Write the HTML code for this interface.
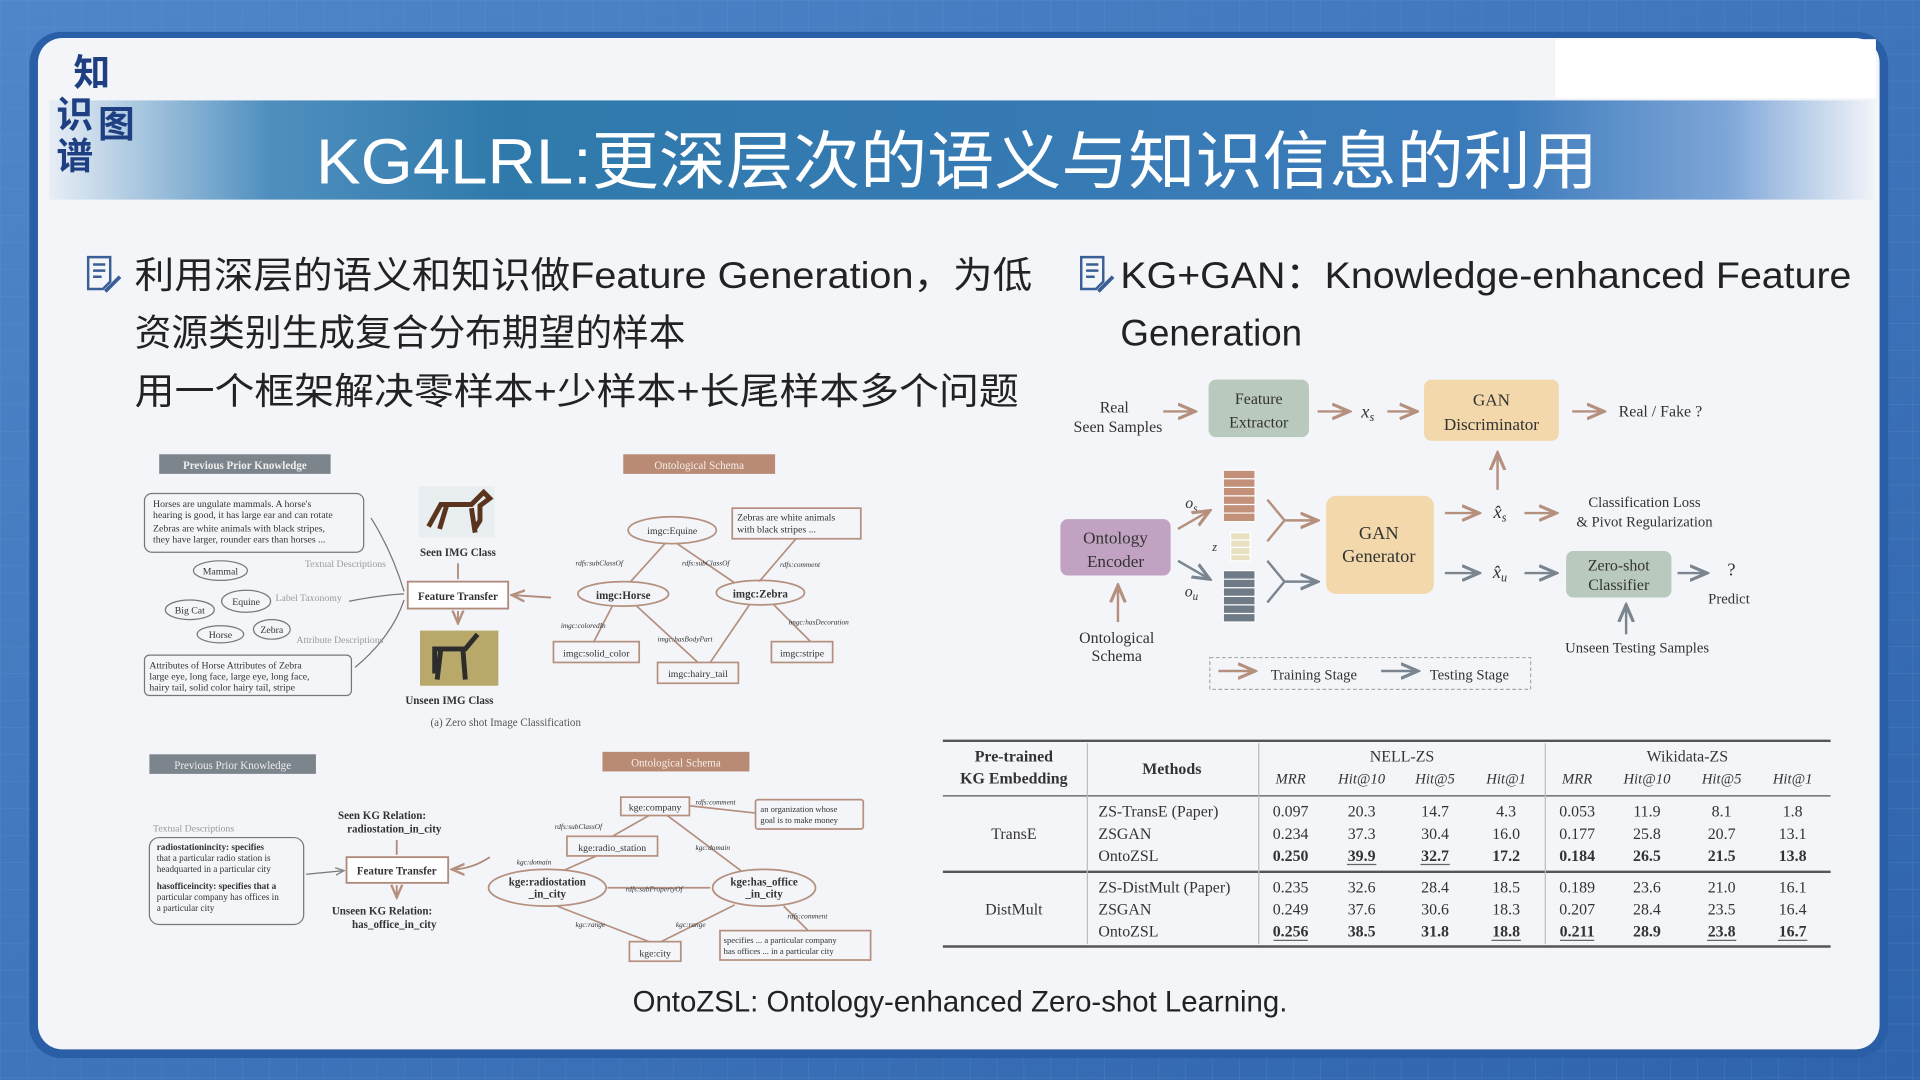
<!DOCTYPE html>
<html><head><meta charset="utf-8"><style>
html,body{margin:0;padding:0;width:1920px;height:1080px;overflow:hidden;background:#3f74bb}
svg{display:block}
.s{font-family:"Liberation Serif","Noto Serif CJK SC",serif}
.a{font-family:"Liberation Sans","Noto Sans CJK SC",sans-serif}
</style></head><body>
<svg width="1920" height="1080" viewBox="0 0 1568 882" xmlns="http://www.w3.org/2000/svg">
<defs>
<linearGradient id="bg" x1="0" y1="0" x2="1" y2="1"><stop offset="0" stop-color="#4f86c9"/><stop offset="1" stop-color="#2f64ad"/></linearGradient>
<linearGradient id="tb" x1="0" y1="0" x2="1" y2="0">
<stop offset="0" stop-color="#e8eef6"/><stop offset="0.12" stop-color="#4f8fbf"/><stop offset="0.25" stop-color="#2f7aab"/><stop offset="0.8" stop-color="#3c7bbb"/><stop offset="0.92" stop-color="#7ea6d8"/><stop offset="1" stop-color="#f0f3f8"/></linearGradient>
<pattern id="grid" width="22" height="22" patternUnits="userSpaceOnUse"><path d="M22 0H0V22" fill="none" stroke="#6b98d2" stroke-width="0.6" opacity="0.5"/></pattern>
<marker id="ab" markerWidth="8" markerHeight="8" refX="7" refY="4" orient="auto"><path d="M0,1 L7,4 L0,7" fill="none" stroke="#b5907e" stroke-width="1.3"/></marker>
<marker id="ag" markerWidth="8" markerHeight="8" refX="7" refY="4" orient="auto"><path d="M0,1 L7,4 L0,7" fill="none" stroke="#7a8590" stroke-width="1.3"/></marker>
<marker id="ak" markerWidth="8" markerHeight="8" refX="7" refY="4" orient="auto"><path d="M0,1 L7,4 L0,7" fill="none" stroke="#888" stroke-width="1.2"/></marker>
</defs>
<rect width="1568" height="882" fill="url(#bg)"/>
<rect width="1568" height="882" fill="url(#grid)"/>
<!-- panel -->
<rect x="24" y="26" width="1518" height="838" rx="26" fill="#2a5ea6"/>
<rect x="31" y="31" width="1504" height="826" rx="20" fill="#f3f5f9"/>
<rect x="1270" y="32" width="262" height="48" fill="#ffffff"/>
<rect x="40" y="82" width="1490" height="81" fill="url(#tb)"/>
<!-- logo -->
<g class="a" fill="#1e3f82" font-weight="bold">
<text x="60" y="70" font-size="30">知</text>
<text x="46" y="104" font-size="30">识</text>
<text x="80" y="112" font-size="30">图</text>
<text x="46" y="138" font-size="30">谱</text>
</g>
<text x="258" y="150" class="a" font-size="52" fill="#ffffff" textLength="1047" lengthAdjust="spacingAndGlyphs">KG4LRL:更深层次的语义与知识信息的利用</text>
<!-- bullets -->
<g fill="none" stroke="#3a5f96" stroke-width="2">
<path d="M72 210h18v20l-6 6h-12z"/><path d="M76 216h10M76 221h10M76 226h7"/><path d="M86 238l12-12" stroke-width="3"/>
<path d="M883 210h18v20l-6 6h-12z"/><path d="M887 216h10M887 221h10M887 226h7"/><path d="M897 238l12-12" stroke-width="3"/>
</g>
<g class="a" font-size="30" fill="#222">
<text x="110" y="235" textLength="733" lengthAdjust="spacingAndGlyphs">利用深层的语义和知识做Feature Generation，为低</text>
<text x="110" y="282">资源类别生成复合分布期望的样本</text>
<text x="110" y="330" textLength="722" lengthAdjust="spacingAndGlyphs">用一个框架解决零样本+少样本+长尾样本多个问题</text>
<text x="915" y="235" textLength="597" lengthAdjust="spacingAndGlyphs">KG+GAN：Knowledge-enhanced Feature</text>
<text x="915" y="282">Generation</text>
</g>

<!-- top-left diagram -->
<g class="s" font-size="9" fill="#333">
<rect x="130" y="371" width="140" height="16" fill="#7d858c"/><text x="200" y="383" fill="#eee" text-anchor="middle" font-weight="bold">Previous Prior Knowledge</text>
<rect x="509" y="371" width="124" height="16" fill="#b98a74"/><text x="571" y="383" fill="#f5eee9" text-anchor="middle">Ontological Schema</text>
<g fill="none" stroke="#777"><rect x="118" y="403" width="179" height="48" rx="6"/><rect x="118" y="535" width="169" height="33" rx="4"/>
<ellipse cx="180" cy="466" rx="22" ry="8"/><ellipse cx="155" cy="498" rx="20" ry="8"/><ellipse cx="201" cy="491" rx="20" ry="9"/><ellipse cx="180" cy="518" rx="19" ry="7"/><ellipse cx="222" cy="514" rx="15" ry="8"/>
<path d="M303 423 Q320 450 330 483M285 491 Q310 486 330 485M290 545 Q320 520 330 490"/></g>
<text x="125" y="414" font-size="8">Horses are ungulate mammals. A horse's</text><text x="125" y="423" font-size="8">hearing is good, it has large ear and can rotate</text>
<text x="125" y="434" font-size="8">Zebras are white animals with black stripes,</text><text x="125" y="443" font-size="8">they have larger, rounder ears than horses ...</text>
<text x="180" y="469" text-anchor="middle" font-size="8">Mammal</text><text x="155" y="501" text-anchor="middle" font-size="8">Big Cat</text><text x="201" y="494" text-anchor="middle" font-size="8">Equine</text><text x="180" y="521" text-anchor="middle" font-size="8">Horse</text><text x="222" y="517" text-anchor="middle" font-size="8">Zebra</text>
<text x="122" y="546" font-size="8">Attributes of Horse  Attributes of Zebra</text><text x="122" y="555" font-size="8">large eye, long face,  large eye, long face,</text><text x="122" y="564" font-size="8">hairy tail, solid color  hairy tail, stripe</text>
<text x="249" y="463" fill="#999" font-size="8">Textual Descriptions</text><text x="225" y="491" fill="#999" font-size="8">Label Taxonomy</text><text x="242" y="525" fill="#999" font-size="8">Attribute Descriptions</text>
<rect x="342" y="397" width="62" height="42" fill="#e9eef0"/><path d="M350 430 l10-18 h25 l10-10 l5 5 l-8 6 v12 l-5 8 M365 412 l-6 20 M385 415 l3 20" stroke="#5b3420" stroke-width="4" fill="none"/>
<text x="374" y="454" text-anchor="middle" font-weight="bold">Seen IMG Class</text>
<rect x="333" y="475" width="82" height="22" fill="#fff" stroke="#b08b7b" stroke-width="1.5"/><text x="374" y="490" text-anchor="middle" font-weight="bold">Feature Transfer</text>
<path d="M374 460v13M374 499v10" stroke="#b08b7b" stroke-width="1.5" marker-end="url(#ab)"/>
<path d="M450 488 L418 486" stroke="#b08b7b" stroke-width="1.5" marker-end="url(#ab)"/>
<rect x="343" y="515" width="64" height="45" fill="#b8a86a"/><path d="M355 550 v-20 h25 l10-12 M360 530 l-3 25 M378 530 l2 25" stroke="#2c2c2c" stroke-width="4" fill="none"/>
<text x="367" y="575" text-anchor="middle" font-weight="bold">Unseen IMG Class</text>
<text x="413" y="593" text-anchor="middle" fill="#555">(a) Zero shot Image Classification</text>
<g fill="none" stroke="#b5907e" stroke-width="1.4"><ellipse cx="549" cy="433" rx="36" ry="11"/><rect x="598" y="415" width="105" height="25"/>
<ellipse cx="509" cy="485" rx="37" ry="10"/><ellipse cx="621" cy="484" rx="36" ry="10"/>
<rect x="452" y="524" width="70" height="17"/><rect x="537" y="541" width="66" height="17"/><rect x="630" y="524" width="50" height="17"/>
<path d="M543 444 L515 475M553 444 L600 476M650 440 L620 475M500 495 L485 524M520 495 L570 541M612 494 L580 541M632 494 L662 524"/></g>
<text x="549" y="436" text-anchor="middle" font-size="8">imgc:Equine</text><text x="602" y="425" font-size="8">Zebras are white animals</text><text x="602" y="435" font-size="8">with black stripes ...</text>
<text x="509" y="489" text-anchor="middle" font-weight="bold">imgc:Horse</text><text x="621" y="488" text-anchor="middle" font-weight="bold">imgc:Zebra</text>
<text x="487" y="536" text-anchor="middle" font-size="8">imgc:solid_color</text><text x="570" y="553" text-anchor="middle" font-size="8">imgc:hairy_tail</text><text x="655" y="536" text-anchor="middle" font-size="8">imgc:stripe</text>
<g font-size="6" font-style="italic"><text x="470" y="462">rdfs:subClassOf</text><text x="557" y="462">rdfs:subClassOf</text><text x="637" y="463">rdfs:comment</text><text x="458" y="513">imgc:coloredIn</text><text x="537" y="524">imgc:hasBodyPart</text><text x="644" y="510">imgc:hasDecoration</text></g>
</g>

<!-- bottom-left diagram -->
<g class="s" font-size="9" fill="#333">
<rect x="122" y="616" width="136" height="16" fill="#7d858c"/><text x="190" y="628" fill="#eee" text-anchor="middle">Previous Prior Knowledge</text>
<rect x="492" y="614" width="120" height="16" fill="#b98a74"/><text x="552" y="626" fill="#f5eee9" text-anchor="middle">Ontological Schema</text>
<text x="125" y="679" fill="#999" font-size="8">Textual Descriptions</text>
<rect x="122" y="684" width="126" height="71" rx="8" fill="none" stroke="#777"/>
<g font-size="7.5"><text x="128" y="694" font-weight="bold">radiostationincity: specifies</text><text x="128" y="703">that a particular radio station is</text><text x="128" y="712">headquarted in a particular city</text>
<text x="128" y="726" font-weight="bold">hasofficeincity: specifies that a</text><text x="128" y="735">particular company has offices in</text><text x="128" y="744">a particular city</text></g>
<path d="M250 714 L281 711" stroke="#777" fill="none" marker-end="url(#ak)"/>
<text x="312" y="669" text-anchor="middle" font-weight="bold">Seen KG Relation:</text><text x="322" y="680" text-anchor="middle" font-weight="bold">radiostation_in_city</text>
<rect x="283" y="700" width="83" height="21" fill="#fff" stroke="#b08b7b" stroke-width="1.5"/><text x="324" y="714" text-anchor="middle" font-weight="bold">Feature Transfer</text>
<path d="M324 686v12M324 723v10" stroke="#b08b7b" stroke-width="1.5" marker-end="url(#ab)"/>
<path d="M400 700 Q385 710 369 710" stroke="#b08b7b" stroke-width="1.5" fill="none" marker-end="url(#ab)"/>
<text x="312" y="747" text-anchor="middle" font-weight="bold">Unseen KG Relation:</text><text x="322" y="758" text-anchor="middle" font-weight="bold">has_office_in_city</text>
<g fill="none" stroke="#b5907e" stroke-width="1.4"><rect x="507" y="651" width="56" height="15"/><rect x="617" y="653" width="88" height="24" rx="2"/><rect x="463" y="683" width="74" height="16"/>
<ellipse cx="447" cy="725" rx="48" ry="15"/><ellipse cx="624" cy="725" rx="42" ry="15"/><rect x="514" y="769" width="42" height="16"/><rect x="588" y="760" width="123" height="24"/>
<path d="M563 658 L617 664M530 666 L500 683M545 666 L605 711M487 699 L460 711M496 725 L580 725M455 740 L530 769M600 739 L540 769M640 740 L660 760"/></g>
<text x="535" y="662" text-anchor="middle" font-size="8">kge:company</text><text x="621" y="663" font-size="7">an organization whose</text><text x="621" y="672" font-size="7">goal is to make money</text>
<text x="500" y="695" text-anchor="middle" font-size="8">kge:radio_station</text>
<text x="447" y="723" text-anchor="middle" font-weight="bold">kge:radiostation</text><text x="447" y="733" text-anchor="middle" font-weight="bold">_in_city</text>
<text x="624" y="723" text-anchor="middle" font-weight="bold">kge:has_office</text><text x="624" y="733" text-anchor="middle" font-weight="bold">_in_city</text>
<text x="535" y="781" text-anchor="middle" font-size="8">kge:city</text><text x="591" y="770" font-size="7">specifies ... a particular company</text><text x="591" y="779" font-size="7">has offices ... in a particular city</text>
<g font-size="6" font-style="italic"><text x="453" y="677">rdfs:subClassOf</text><text x="568" y="657">rdfs:comment</text><text x="568" y="694">kgc:domain</text><text x="422" y="706">kgc:domain</text><text x="511" y="728">rdfs:subPropertyOf</text><text x="470" y="757">kgc:range</text><text x="552" y="757">kgc:range</text><text x="643" y="750">rdfs:comment</text></g>
</g>

<!-- GAN diagram -->
<g class="s" font-size="13" fill="#333" text-anchor="middle">
<text x="910" y="337">Real</text><text x="913" y="353">Seen Samples</text>
<rect x="987" y="310" width="82" height="47" rx="6" fill="#b9c9bd"/><text x="1028" y="330">Feature</text><text x="1028" y="349">Extractor</text>
<text x="1117" y="341" font-style="italic" font-size="15">x<tspan font-size="10" dy="3">s</tspan></text>
<rect x="1163" y="310" width="110" height="50" rx="6" fill="#f2d8aa"/><text x="1218" y="331" font-size="14">GAN</text><text x="1218" y="351" font-size="14">Discriminator</text>
<text x="1356" y="340">Real / Fake ?</text>
<rect x="866" y="424" width="90" height="46" rx="6" fill="#c1a2c2"/><text x="911" y="444" font-size="14">Ontology</text><text x="911" y="463" font-size="14">Encoder</text>
<text x="912" y="525">Ontological</text><text x="912" y="540">Schema</text>
<g stroke="#fff" stroke-width="1"><rect x="999" y="384" width="26" height="42" fill="#c39079"/><path d="M999 391h26M999 398h26M999 405h26M999 412h26M999 419h26"/>
<rect x="1005" y="435" width="16" height="23" fill="#e8e0c0"/><path d="M1005 441h16M1005 447h16M1005 453h16"/>
<rect x="999" y="466" width="26" height="42" fill="#6f7c88"/><path d="M999 473h26M999 480h26M999 487h26M999 494h26M999 501h26"/></g>
<text x="973" y="415" font-style="italic">o<tspan font-size="9" dy="3">s</tspan></text><text x="973" y="487" font-style="italic">o<tspan font-size="9" dy="3">u</tspan></text><text x="992" y="450" font-style="italic" font-size="10">z</text>
<rect x="1083" y="405" width="88" height="80" rx="8" fill="#f2d8aa"/><text x="1126" y="440" font-size="15">GAN</text><text x="1126" y="459" font-size="15">Generator</text>
<text x="1225" y="423" font-style="italic" font-size="15">x̂<tspan font-size="10" dy="3">s</tspan></text><text x="1225" y="472" font-style="italic" font-size="15">x̂<tspan font-size="10" dy="3">u</tspan></text>
<text x="1343" y="414" font-size="12">Classification Loss</text><text x="1343" y="430" font-size="12">&amp; Pivot Regularization</text>
<rect x="1279" y="450" width="86" height="38" rx="6" fill="#b9c9bd"/><text x="1322" y="466">Zero-shot</text><text x="1322" y="482">Classifier</text>
<text x="1414" y="470" font-size="15">?</text><text x="1412" y="493" font-size="12">Predict</text>
<text x="1337" y="533" font-size="12">Unseen Testing Samples</text>
<rect x="988" y="537" width="262" height="26" fill="none" stroke="#aaa" stroke-dasharray="3,2"/>
<text x="1073" y="555" font-size="12">Training Stage</text><text x="1200" y="555" font-size="12">Testing Stage</text>
<g fill="none" stroke-width="2" stroke="#b5907e">
<path d="M950 336h26" marker-end="url(#ab)"/><path d="M1076 336h26" marker-end="url(#ab)"/><path d="M1133 336h24" marker-end="url(#ab)"/><path d="M1284 336h26" marker-end="url(#ab)"/>
<path d="M1223 400v-30" marker-end="url(#ab)"/><path d="M1245 419h26" marker-end="url(#ab)"/><path d="M1180 419h28" marker-end="url(#ab)"/>
<path d="M913 508v-30" marker-end="url(#ab)"/><path d="M962 432l26-15" marker-end="url(#ab)"/>
<path d="M1035 408l14 17l-14 17M1049 425h27" marker-end="url(#ab)"/>
<path d="M995 548h30" marker-end="url(#ab)"/>
</g>
<g fill="none" stroke-width="2" stroke="#7a8590">
<path d="M962 458l26 15" marker-end="url(#ag)"/><path d="M1035 458l14 17l-14 17M1049 475h27" marker-end="url(#ag)"/>
<path d="M1180 468h28" marker-end="url(#ag)"/><path d="M1245 468h26" marker-end="url(#ag)"/><path d="M1370 468h24" marker-end="url(#ag)"/><path d="M1328 518v-24" marker-end="url(#ag)"/>
<path d="M1128 548h30" marker-end="url(#ag)"/>
</g>
</g>

<!-- table -->
<g class="s" font-size="13" fill="#333" text-anchor="middle">
<g stroke="#555"><path d="M770 605H1495" stroke-width="2"/><path d="M770 650H1495" stroke-width="1"/><path d="M770 712H1495" stroke-width="2"/><path d="M770 773H1495" stroke-width="2"/>
<path d="M888 607V771M1028 607V771M1262 607V771" stroke="#bbb" stroke-width="1"/></g>
<text x="828" y="622" font-weight="bold">Pre-trained</text><text x="828" y="640" font-weight="bold">KG Embedding</text>
<text x="957" y="632" font-weight="bold">Methods</text>
<text x="1145" y="622">NELL-ZS</text><text x="1378" y="622">Wikidata-ZS</text>
<g font-style="italic" font-size="12"><text x="1054" y="640">MRR</text><text x="1112" y="640">Hit@10</text><text x="1172" y="640">Hit@5</text><text x="1230" y="640">Hit@1</text><text x="1288" y="640">MRR</text><text x="1345" y="640">Hit@10</text><text x="1406" y="640">Hit@5</text><text x="1464" y="640">Hit@1</text></g>
<text x="828" y="685">TransE</text><text x="828" y="747">DistMult</text>
<g text-anchor="start"><text x="897" y="667">ZS-TransE (Paper)</text><text x="897" y="685">ZSGAN</text><text x="897" y="703">OntoZSL</text><text x="897" y="729">ZS-DistMult (Paper)</text><text x="897" y="747">ZSGAN</text><text x="897" y="765">OntoZSL</text></g>
<g><text x="1054" y="667">0.097</text><text x="1112" y="667">20.3</text><text x="1172" y="667">14.7</text><text x="1230" y="667">4.3</text><text x="1288" y="667">0.053</text><text x="1345" y="667">11.9</text><text x="1406" y="667">8.1</text><text x="1464" y="667">1.8</text>
<text x="1054" y="685">0.234</text><text x="1112" y="685">37.3</text><text x="1172" y="685">30.4</text><text x="1230" y="685">16.0</text><text x="1288" y="685">0.177</text><text x="1345" y="685">25.8</text><text x="1406" y="685">20.7</text><text x="1464" y="685">13.1</text></g>
<g font-weight="bold"><text x="1054" y="703">0.250</text><text x="1112" y="703">39.9</text><text x="1172" y="703">32.7</text><text x="1230" y="703">17.2</text><text x="1288" y="703">0.184</text><text x="1345" y="703">26.5</text><text x="1406" y="703">21.5</text><text x="1464" y="703">13.8</text></g>
<g><text x="1054" y="729">0.235</text><text x="1112" y="729">32.6</text><text x="1172" y="729">28.4</text><text x="1230" y="729">18.5</text><text x="1288" y="729">0.189</text><text x="1345" y="729">23.6</text><text x="1406" y="729">21.0</text><text x="1464" y="729">16.1</text>
<text x="1054" y="747">0.249</text><text x="1112" y="747">37.6</text><text x="1172" y="747">30.6</text><text x="1230" y="747">18.3</text><text x="1288" y="747">0.207</text><text x="1345" y="747">28.4</text><text x="1406" y="747">23.5</text><text x="1464" y="747">16.4</text></g>
<g font-weight="bold"><text x="1054" y="765">0.256</text><text x="1112" y="765">38.5</text><text x="1172" y="765">31.8</text><text x="1230" y="765">18.8</text><text x="1288" y="765">0.211</text><text x="1345" y="765">28.9</text><text x="1406" y="765">23.8</text><text x="1464" y="765">16.7</text></g>
<path d="M1100 706h24M1160 706h24M1040 768h28M1218 768h24M1274 768h28M1394 768h24M1452 768h24" stroke="#666" stroke-width="1"/>
</g>
<text x="784" y="826" text-anchor="middle" class="a" font-size="24" fill="#222">OntoZSL: Ontology-enhanced Zero-shot Learning.</text>
</svg>
</body></html>
